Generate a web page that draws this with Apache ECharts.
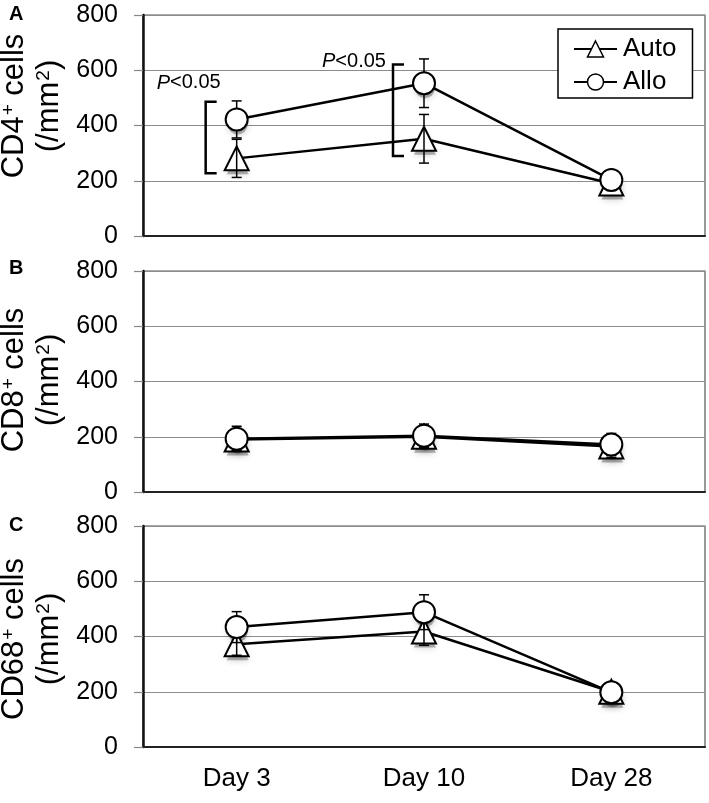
<!DOCTYPE html>
<html><head><meta charset="utf-8">
<script src="https://cdn.jsdelivr.net/npm/echarts@6/dist/echarts.min.js"></script>
<style>html,body{margin:0;padding:0;background:#fff}#c{width:709px;height:803px}</style>
</head><body><div id="c"></div>
<script>
// ---------- data ----------
const categories = ['Day 3', 'Day 10', 'Day 28'];
const seriesNames = ['Auto', 'Allo'];
const yTicks = [0, 200, 400, 600, 800];
const panelLetters = ['A', 'B', 'C'];
const panelMarkers = ['CD4', 'CD8', 'CD68'];

// Panel A: CD4+ cells (/mm2)
const cd4Auto = [281, 352, 190];
const cd4AutoErr = [69, 88, 25];
const cd4Allo = [422, 553, 203];
const cd4AlloErr = [67, 88, 30];
// Panel B: CD8+ cells (/mm2)
const cd8Auto = [190, 200, 165];
const cd8AutoErr = [40, 40, 40];
const cd8Allo = [193, 204, 172];
const cd8AlloErr = [45, 42, 40];
// Panel C: CD68+ cells (/mm2)
const cd68Auto = [372, 418, 200];
const cd68AutoErr = [40, 50, 25];
const cd68Allo = [434, 488, 198];
const cd68AlloErr = [56, 63, 30];

// Significance annotations (panel A)
const sigCats = [0, 1];
const sigLow = [227, 290];
const sigHigh = [486, 621];
const sigTextValue = [554, 633];
const sigText = 'P<0.05';

// ---------- chart ----------
const FONT = 'Arial, "Liberation Sans", sans-serif';
const panels = [
  {auto: cd4Auto, autoErr: cd4AutoErr, allo: cd4Allo, alloErr: cd4AlloErr},
  {auto: cd8Auto, autoErr: cd8AutoErr, allo: cd8Allo, alloErr: cd8AlloErr},
  {auto: cd68Auto, autoErr: cd68AutoErr, allo: cd68Allo, alloErr: cd68AlloErr}
];
const gridTops = [15, 271, 526];
const nameCenters = [106, 380, 639];
const letterY = [14, 268, 525];

const markerStyle = {color: '#fff', borderColor: '#000', borderWidth: 2};
const shadowStyle = {color: 'rgba(0,0,0,0.35)', shadowBlur: 7, shadowColor: 'rgba(0,0,0,0.7)'};

function errRender(params, api) {
  const x = api.value(0), v = api.value(1), e = api.value(2);
  const top = api.coord([x, v + e]), bot = api.coord([x, v - e]);
  const hw = 5;
  const style = {stroke: '#000', lineWidth: 1.5};
  return {type: 'group', children: [
    {type: 'line', shape: {x1: top[0], y1: top[1], x2: bot[0], y2: bot[1]}, style},
    {type: 'line', shape: {x1: top[0] - hw, y1: top[1], x2: top[0] + hw, y2: top[1]}, style},
    {type: 'line', shape: {x1: bot[0] - hw, y1: bot[1], x2: bot[0] + hw, y2: bot[1]}, style}
  ]};
}

function bracketRender(params, api) {
  const c = api.value(0);
  const hi = api.coord([c, api.value(2)]);
  const lo = api.coord([c, api.value(1)]);
  const bx = hi[0] - 31, tick = 11;
  return {type: 'polyline', shape: {points: [[bx + tick, hi[1]], [bx, hi[1]], [bx, lo[1]], [bx + tick, lo[1]]]},
    style: {stroke: '#000', lineWidth: 2.5, fill: null}};
}

const textDx = [-48, -70];
function sigTextRender(params, api) {
  const p = api.coord([api.value(0), api.value(1)]);
  return {type: 'text', x: p[0] + textDx[params.dataIndex], y: p[1],
    style: {text: '{i|P}{n|' + sigText.slice(1) + '}',
      rich: {i: {fontStyle: 'italic', fontSize: 20, fontFamily: FONT, fill: '#000'},
             n: {fontSize: 20, fontFamily: FONT, fill: '#000'}},
      align: 'center', verticalAlign: 'middle', textAlign: 'center', textVerticalAlign: 'middle'}};
}

const grids = [], xAxes = [], yAxes = [], series = [], graphics = [];
panels.forEach((p, i) => {
  grids.push({left: 143, width: 562, top: gridTops[i], height: 221, show: true,
    borderColor: '#555', borderWidth: 1.2, backgroundColor: 'transparent'});
  xAxes.push({type: 'category', gridIndex: i, data: categories, boundaryGap: true,
    axisLine: {show: true, lineStyle: {color: '#222', width: 2}},
    axisTick: {show: false},
    axisLabel: {show: i === 2, fontSize: 26, color: '#000', fontFamily: FONT, margin: 19},
    splitLine: {show: false}});
  yAxes.push({type: 'value', gridIndex: i, min: yTicks[0], max: yTicks[yTicks.length - 1],
    interval: yTicks[1] - yTicks[0],
    axisLine: {show: true, lineStyle: {color: '#111', width: 2.5}},
    axisTick: {show: true, length: 9, lineStyle: {color: '#888', width: 1.2}},
    axisLabel: {fontSize: 25, color: '#000', fontFamily: FONT, margin: 25},
    splitLine: {show: true, lineStyle: {color: '#8c8c8c', width: 1.2}}});

  // soft drop shadows under the markers
  series.push({name: 'Auto shadow ' + i, type: 'scatter', xAxisIndex: i, yAxisIndex: i, z: 1, silent: true,
    data: p.auto, symbol: 'triangle', symbolSize: 22, symbolOffset: [1, 5], itemStyle: shadowStyle, animation: false});
  series.push({name: 'Allo shadow ' + i, type: 'scatter', xAxisIndex: i, yAxisIndex: i, z: 1, silent: true,
    data: p.allo, symbol: 'circle', symbolSize: 20, symbolOffset: [1, 5], itemStyle: shadowStyle, animation: false});

  series.push({name: seriesNames[0], type: 'line', xAxisIndex: i, yAxisIndex: i,
    data: p.auto, symbol: 'triangle', symbolSize: 24, z: 2,
    lineStyle: {color: '#000', width: 2.5}, itemStyle: markerStyle, animation: false});
  series.push({name: 'Auto SEM ' + i, type: 'custom', xAxisIndex: i, yAxisIndex: i, z: 3,
    data: p.auto.map((v, k) => [k, v, p.autoErr[k]]), renderItem: errRender, animation: false, silent: true});
  series.push({name: 'Allo SEM ' + i, type: 'custom', xAxisIndex: i, yAxisIndex: i, z: 3,
    data: p.allo.map((v, k) => [k, v, p.alloErr[k]]), renderItem: errRender, animation: false, silent: true});
  series.push({name: seriesNames[1], type: 'line', xAxisIndex: i, yAxisIndex: i,
    data: p.allo, symbol: 'circle', symbolSize: 22, z: 4,
    lineStyle: {color: '#000', width: 2.5}, itemStyle: markerStyle, animation: false});

  graphics.push({type: 'text', x: 9, y: letterY[i],
    style: {text: panelLetters[i], fontSize: 20, fontWeight: 'bold', fontFamily: FONT, fill: '#000',
      verticalAlign: 'middle', textVerticalAlign: 'middle'}});
  graphics.push({type: 'text', x: 32, y: nameCenters[i], rotation: Math.PI / 2,
    style: {text: '{n|' + panelMarkers[i] + '}{s|+}{n| cells}\n{n|(/mm}{s|2}{n|)}',
      rich: {n: {fontSize: 31, fontFamily: FONT, fill: '#000', lineHeight: 35},
             s: {fontSize: 19, fontFamily: FONT, fill: '#000', verticalAlign: 'top', lineHeight: 35, padding: [2, 0, 0, 1]}},
      align: 'center', verticalAlign: 'middle', textAlign: 'center', textVerticalAlign: 'middle'}});
});

series.push({name: 'bracket', type: 'custom', xAxisIndex: 0, yAxisIndex: 0, z: 5, silent: true, animation: false,
  data: sigCats.map((c, k) => [c, sigLow[k], sigHigh[k]]), renderItem: bracketRender});
series.push({name: 'sig', type: 'custom', xAxisIndex: 0, yAxisIndex: 0, z: 5, silent: true, animation: false,
  data: sigCats.map((c, k) => [c, sigTextValue[k]]), renderItem: sigTextRender});

const chart = echarts.init(document.getElementById('c'), null, {renderer: 'canvas'});
chart.setOption({
  animation: false,
  backgroundColor: '#fff',
  grid: grids, xAxis: xAxes, yAxis: yAxes, series: series,
  legend: {data: seriesNames, orient: 'vertical', left: 558, top: 29,
    backgroundColor: '#fff', borderColor: '#000', borderWidth: 1.5,
    padding: [7, 16, 3, 15], itemGap: 7, itemWidth: 43, itemHeight: 20,
    textStyle: {fontSize: 26, color: '#000', fontFamily: FONT, padding: [0, 0, 0, 1]},
    itemStyle: {borderWidth: 1.5},
    lineStyle: {width: 2},
    selectedMode: false},
  graphic: graphics
});
</script></body></html>
